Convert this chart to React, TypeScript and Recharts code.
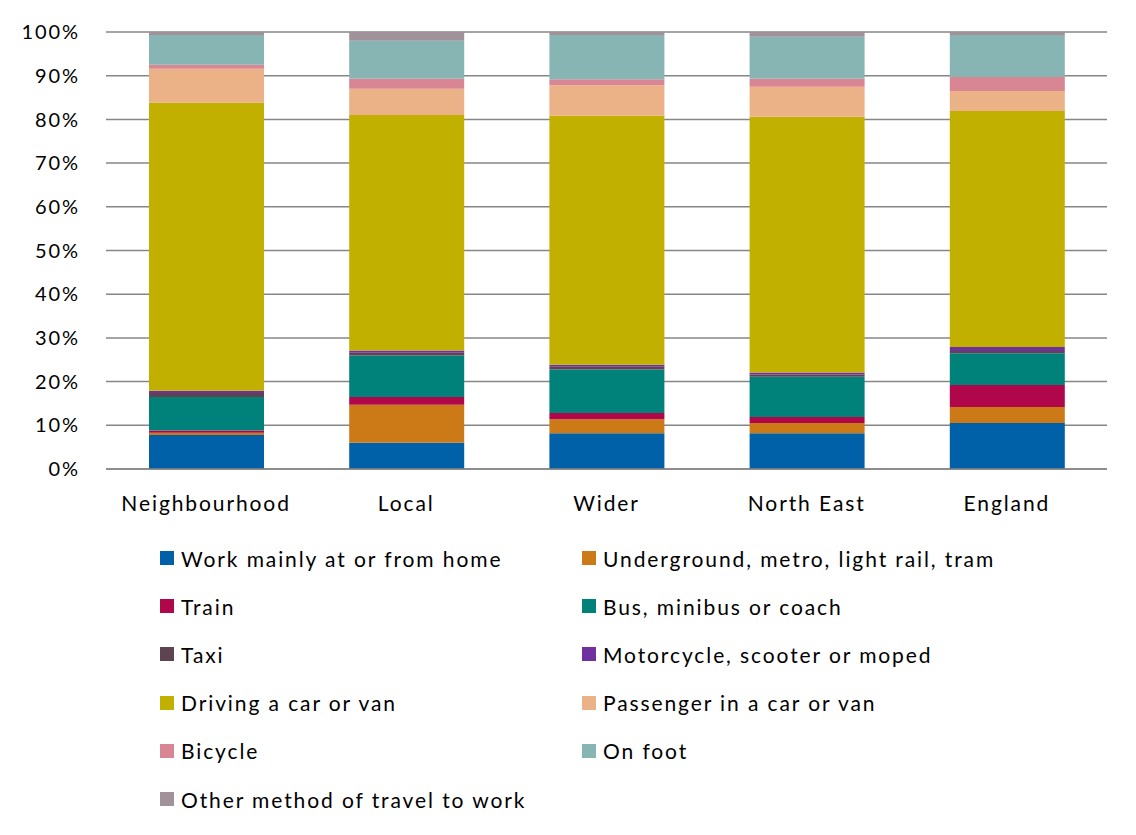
import { BarChart, Bar, XAxis, YAxis, CartesianGrid } from "recharts";

const areas = ["Neighbourhood", "Local", "Wider", "North East", "England"];

const home = [7.8, 6.0, 8.2, 8.2, 10.5];
const underground = [0.5, 8.7, 3.2, 2.3, 3.7];
const train = [0.5, 1.8, 1.4, 1.4, 5.0];
const bus = [7.7, 9.5, 10.0, 9.2, 7.3];
const taxi = [0.9, 0.6, 0.6, 0.5, 0.5];
const motorcycle = [0.5, 0.5, 0.5, 0.5, 0.9];
const driving = [66.0, 53.9, 57.1, 58.5, 54.0];
const passenger = [7.8, 6.0, 6.9, 6.9, 4.6];
const bicycle = [0.9, 2.3, 1.4, 1.8, 3.2];
const onFoot = [6.8, 8.7, 10.1, 9.6, 9.6];
const other = [0.7, 2.0, 0.7, 1.1, 0.7];

const yTicks = [0, 0.1, 0.2, 0.3, 0.4, 0.5, 0.6, 0.7, 0.8, 0.9, 1];

const series = [
    { key: "home", name: "Work mainly at or from home", color: "#0060A8", values: home },
    { key: "underground", name: "Underground, metro, light rail, tram", color: "#CC7A17", values: underground },
    { key: "train", name: "Train", color: "#B0064A", values: train },
    { key: "bus", name: "Bus, minibus or coach", color: "#00827A", values: bus },
    { key: "taxi", name: "Taxi", color: "#5E4450", values: taxi },
    { key: "motorcycle", name: "Motorcycle, scooter or moped", color: "#7030A0", values: motorcycle },
    { key: "driving", name: "Driving a car or van", color: "#C2B000", values: driving },
    { key: "passenger", name: "Passenger in a car or van", color: "#EBB287", values: passenger },
    { key: "bicycle", name: "Bicycle", color: "#D88594", values: bicycle },
    { key: "onFoot", name: "On foot", color: "#87B5B3", values: onFoot },
    { key: "other", name: "Other method of travel to work", color: "#A09298", values: other },
];

const data = areas.map((area, i) => {
    const row: Record<string, string | number> = { area };
    series.forEach((s) => { row[s.key] = s.values[i]; });
    return row;
});

const font = "Lato, 'Open Sans', sans-serif";
const spacing = "1.9px";

function ChartLegend() {
    return (
        <div style={{ position: "absolute", left: 160, top: 534, width: 900, fontFamily: font, fontSize: 21, letterSpacing: spacing, color: "#000" }}>
            {series.map((s, i) => (
                <div
                    key={s.key}
                    style={{
                        position: "absolute",
                        left: i % 2 === 0 ? 0 : 422,
                        top: Math.floor(i / 2) * 48.2,
                        height: 48,
                        display: "flex",
                        alignItems: "center",
                        whiteSpace: "nowrap",
                    }}
                >
                    <span style={{ width: 14, height: 14, background: s.color, display: "inline-block", marginRight: 7 }} />
                    {s.name}
                </div>
            ))}
        </div>
    );
}

export default function App() {
    return (
        <div style={{ position: "relative", margin: -8, width: 1136, height: 835, background: "#fff", overflow: "hidden" }}>
            <div style={{ position: "absolute", left: 1, top: 0, width: 2, height: 835, background: "#9a9a9a" }} />
            <BarChart
                width={1136}
                height={835}
                data={data}
                stackOffset="expand"
                margin={{ top: 32, right: 29, left: 26, bottom: 326 }}
                barSize={115}
            >
                <CartesianGrid vertical={false} stroke="#868686" strokeWidth={1.5} />
                <XAxis
                    dataKey="area"
                    height={40}
                    axisLine={{ stroke: "#868686", strokeWidth: 1.5 }}
                    tickLine={false}
                    tickMargin={21}
                    tick={{ fill: "#000", fontSize: 21, fontFamily: font, letterSpacing: spacing }}
                />
                <YAxis
                    width={80}
                    domain={[0, 1]}
                    ticks={yTicks}
                    interval={0}
                    axisLine={false}
                    tickLine={false}
                    tickMargin={20}
                    tickFormatter={(v: number) => `${Math.round(v * 100)}%`}
                    tick={{ fill: "#000", fontSize: 20, fontFamily: font, letterSpacing: spacing }}
                />
                {series.map((s) => (
                    <Bar key={s.key} dataKey={s.key} name={s.name} stackId="a" fill={s.color} isAnimationActive={false} />
                ))}
            </BarChart>
            <ChartLegend />
        </div>
    );
}
